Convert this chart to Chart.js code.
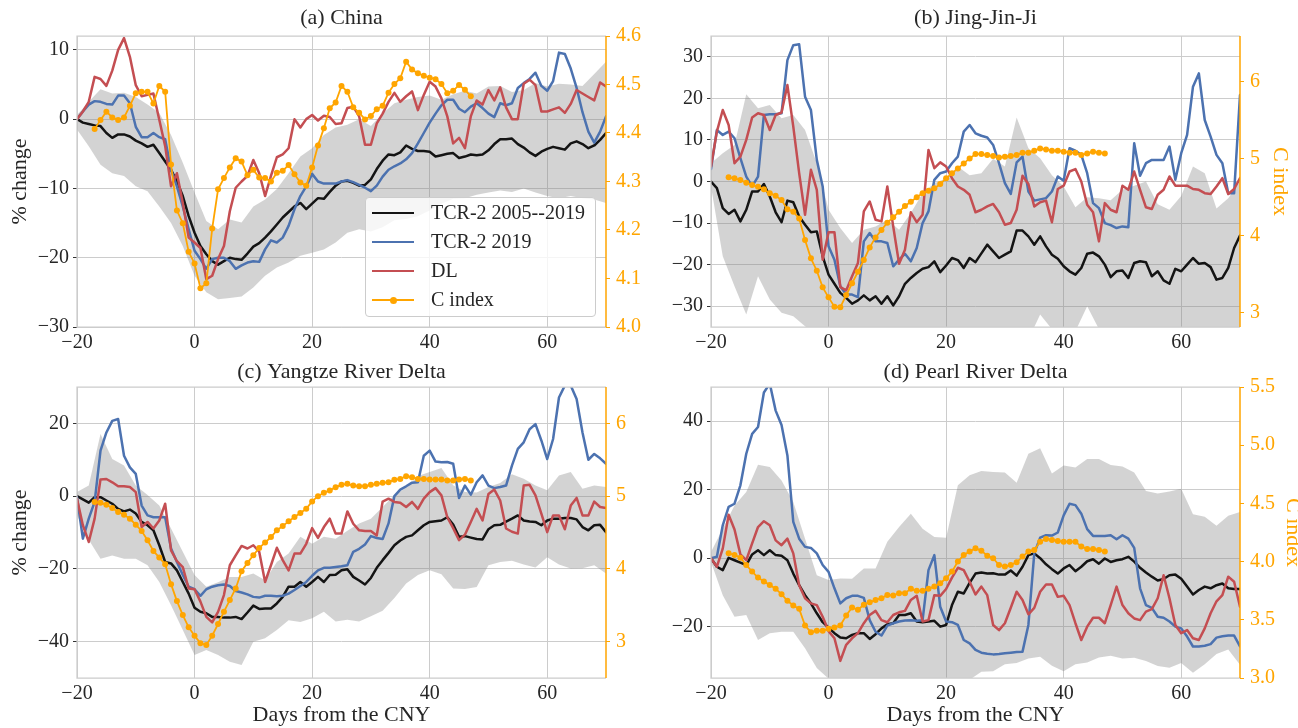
<!DOCTYPE html>
<html lang="en">
<head>
<meta charset="UTF-8">
<title>CNY activity change</title>
<script src="https://cdn.jsdelivr.net/npm/chart.js"></script>
<style>
  html, body { margin: 0; padding: 0; background: #fff; overflow: hidden; }
  #page { position: relative; width: 1298px; height: 728px; overflow: hidden; }
  #page canvas { position: absolute; }
  #legend {
    position: absolute; left: 365px; top: 197px; width: 231px; height: 120px;
    box-sizing: border-box; padding-top: 0px;
    background: rgba(255,255,255,0.8); border: 1px solid #cccccc; border-radius: 4px;
    font: 20px 'Liberation Serif', 'Times New Roman', serif; color: #262626; z-index: 5;
  }
  #legend .row { position: relative; height: 29px; line-height: 29px; padding-left: 65px; white-space: nowrap; }
  #legend .swatch { position: absolute; left: 6px; top: 13.5px; width: 42px; height: 2.5px; }
  #legend .dot { position: absolute; left: 17.5px; top: -2px; width: 7px; height: 7px; border-radius: 50%; }
</style>
</head>
<body>
<div id="page">
  <canvas id="pa" width="649" height="364" style="left:0;top:0"></canvas>
  <canvas id="pb" width="649" height="364" style="left:649px;top:0"></canvas>
  <canvas id="pc" width="649" height="377" style="left:0;top:351px"></canvas>
  <canvas id="pd" width="662" height="377" style="left:649px;top:351px"></canvas>
  <div id="legend"></div>
</div>
<script>
// ---- x positions: days from the CNY ----
const days = Array.from({length: 91}, (_, i) => i - 20);      // lines
const bandDays = Array.from({length: 46}, (_, i) => 2 * i - 20); // spread band
const cDays = Array.from({length: 65}, (_, i) => i - 17);     // C index
const xTicks = [-20, 0, 20, 40, 60];

const seriesNames = ['TCR-2 2005--2019', 'TCR-2 2019', 'DL', 'C index'];

// ---- (a) China ----
const chinaBlack = [
  0, -0.5, -0.7, -0.9, -1.0, -2.0, -2.7, -2.2, -2.2, -2.5,
  -3.1, -3.5, -4.0, -3.7, -4.9, -6.1, -7.3, -9.0, -11.1, -14.0,
  -16.4, -18.3, -19.5, -20.5, -21.0, -20.5, -20.0, -20.2, -20.3, -19.4,
  -18.4, -17.9, -17.1, -16.2, -15.2, -14.2, -13.4, -12.6, -12.1, -13.0,
  -12.2, -11.4, -11.5, -10.5, -9.6, -9.0, -8.9, -9.2, -9.6, -9.5,
  -8.7, -7.2, -6.0, -5.1, -5.2, -4.8, -3.8, -4.3, -4.6, -4.6,
  -4.7, -5.4, -5.2, -5.0, -4.9, -5.6, -5.4, -5.1, -5.2, -5.1,
  -4.5, -3.6, -2.9, -2.9, -2.8, -3.6, -4.1, -4.8, -5.3, -4.7,
  -4.3, -4.0, -4.2, -4.4, -3.5, -3.2, -3.6, -4.2, -3.8, -3.0,
  -2.0];
const chinaBlue = [
  0, 1.1, 2.1, 2.6, 2.5, 2.2, 2.1, 3.4, 3.4, 2.3,
  -1.1, -2.6, -2.6, -2.0, -2.6, -2.9, -7.3, -9.7, -12.6, -15.9,
  -19.0, -20.2, -21.6, -20.2, -20.0, -20.0, -20.5, -21.6, -21.1, -20.7,
  -20.5, -20.6, -18.8, -17.5, -17.8, -17.1, -15.4, -13.0, -11.1, -9.7,
  -7.9, -9.0, -9.3, -9.3, -9.3, -9.0, -8.8, -9.1, -9.5, -9.9,
  -10.4, -9.6, -8.3, -7.3, -6.8, -6.4, -5.8, -4.9, -3.5, -2.0,
  -0.5, 0.8, 2.0, 2.8, 2.8, 1.5, 1.0, 1.8, 2.3, 1.6,
  0.8, 0.3, 2.3, 2.0, 2.3, 4.5, 5.2, 5.8, 6.7, 4.8,
  4.1, 5.5, 9.6, 9.4, 7.3, 4.5, 1.0, -1.8, -3.4, -1.8,
  0.4];
const chinaRed = [
  0, 1.1, 2.5, 6.1, 5.8, 4.8, 7.0, 10.0, 11.7, 9.0,
  4.9, 3.3, 3.5, 3.7, -0.1, -3.9, -9.7, -7.8, -12.1, -17.1,
  -17.8, -18.6, -23.1, -22.6, -20.2, -18.3, -13.3, -9.9, -9.0, -8.2,
  -5.9, -7.8, -11.1, -8.2, -5.5, -5.1, -4.2, 0.0, -1.2, 0.0,
  0.6, -0.2, 0.5, 0.3, -0.7, -0.6, 1.6, 1.8, 0.4, -3.7,
  -3.7, -0.6, 0.8, 2.5, 3.8, 2.5, 3.3, 4.0, 1.3, 3.5,
  5.4, 4.7, 3.0, 0.4, -3.5, -2.7, -4.2, 0.4, 2.7, 2.1,
  4.2, 2.7, 4.6, 1.7, 0.0, 0.0, 5.1, 5.7, 4.9, 1.1,
  1.1, 1.4, 1.7, 0.9, 2.2, 4.2, 3.7, 3.2, 2.7, 5.3,
  4.7];
const chinaHi = [
  0.6, 2.5, 4.3, 3.7, 3.8, 3.2, 2.1, 0.9, -2.3, -6.3,
  -10.6, -14.7, -15.9, -14.5, -14.9, -12.6, -11.6, -10.1, -7.8, -5.4,
  -4.2, -2.3, -1.2, -0.8, 0.0, -1.0, 0.8, 2.3, 2.8, 3.2,
  3.4, 2.8, 3.6, 4.1, 3.7, 4.7, 4.8, 3.9, 4.2, 5.2,
  4.7, 5.1, 5.0, 4.8, 6.5, 8.3];
const chinaLo = [
  -1.5, -3.9, -6.6, -7.8, -8.2, -9.7, -10.4, -12.6, -15.0, -18.3,
  -22.6, -25.0, -26.0, -25.8, -25.6, -24.3, -22.6, -21.4, -20.7, -19.7,
  -19.3, -18.8, -17.8, -16.4, -15.9, -16.2, -15.6, -14.6, -14.4, -14.0,
  -13.2, -12.2, -11.5, -11.4, -10.9, -10.6, -10.3, -10.5, -10.0, -10.6,
  -11.1, -11.4, -11.1, -11.4, -11.6, -12.1];
const chinaC = [
  4.408, 4.427, 4.444, 4.432, 4.427, 4.432, 4.456, 4.482, 4.485, 4.485,
  4.461, 4.497, 4.485, 4.335, 4.240, 4.214, 4.155, 4.131, 4.080, 4.090,
  4.203, 4.284, 4.307, 4.329, 4.348, 4.341, 4.313, 4.324, 4.308, 4.307,
  4.300, 4.318, 4.322, 4.334, 4.315, 4.298, 4.291, 4.329, 4.374, 4.410,
  4.451, 4.463, 4.497, 4.485, 4.453, 4.442, 4.428, 4.435, 4.449, 4.456,
  4.483, 4.501, 4.513, 4.547, 4.531, 4.523, 4.518, 4.514, 4.511, 4.501,
  4.482, 4.487, 4.499, 4.489, 4.476];
const chinaYTicks = [-30, -20, -10, 0, 10];
const chinaCTicks = [4.0, 4.1, 4.2, 4.3, 4.4, 4.5, 4.6];

// ---- (b) Jing-Jin-Ji ----
const jjjBlack = [
  0, -1.6, -6.4, -7.8, -6.8, -9.6, -6.8, -2.4, -2.4, -0.6,
  -3.6, -7.4, -9.8, -4.6, -5.0, -8.4, -10.4, -12.2, -12.0, -18.0,
  -22.4, -24.6, -26.8, -28.0, -29.4, -28.6, -27.4, -28.6, -27.6, -29.4,
  -27.6, -29.8, -27.6, -24.6, -23.2, -22.0, -21.0, -20.6, -19.2, -21.8,
  -20.2, -18.4, -18.9, -20.8, -18.4, -19.4, -17.3, -15.2, -16.8, -18.4,
  -17.6, -16.8, -11.8, -11.8, -13.2, -15.2, -13.2, -15.6, -17.6, -18.6,
  -20.4, -21.6, -22.4, -20.8, -17.4, -17.1, -18.0, -20.0, -23.0, -21.6,
  -21.4, -23.2, -19.6, -19.2, -19.4, -22.8, -21.6, -23.8, -24.6, -21.0,
  -21.6, -20.0, -18.4, -19.8, -19.6, -20.6, -23.6, -23.2, -20.8, -16.0,
  -13.0];
const jjjBlue = [
  3.0, 12.4, 11.2, 12.0, 10.4, 5.6, 1.2, -1.2, 1.2, 16.0,
  16.2, 16.2, 16.4, 29.2, 32.8, 33.0, 20.4, 17.2, 5.2, -1.2,
  -15.6, -18.8, -25.2, -27.2, -27.2, -27.8, -14.4, -12.4, -14.4, -14.4,
  -14.8, -20.4, -18.8, -17.4, -19.2, -16.0, -10.0, -7.2, 0.4, 2.0,
  2.4, 4.4, 6.0, 12.0, 13.6, 11.6, 11.0, 10.6, 8.8, 4.4,
  -0.4, -3.0, 4.6, 6.0, -2.4, -4.6, -4.3, -4.0, -2.4, 1.2,
  0.2, 8.0, 7.4, 6.4, 2.0, -5.2, -6.4, -10.0, -10.5, -11.2,
  -10.8, -11.0, 9.2, 1.4, 4.4, 5.2, 5.2, 5.2, 8.4, 0.4,
  6.8, 11.2, 22.8, 26.0, 14.8, 10.8, 6.4, 4.4, -2.8, -2.8,
  20.8];
const jjjRed = [
  3.6, 12.0, 17.2, 13.6, 4.4, 6.0, 10.0, 15.4, 16.4, 16.0,
  12.4, 16.0, 16.6, 23.2, 13.2, 2.0, -8.0, 2.8, -2.0, -18.8,
  -12.2, -12.2, -25.4, -26.2, -22.8, -19.6, -7.2, -4.8, -9.2, -9.6,
  -1.2, -10.8, -19.8, -16.4, -7.4, -9.8, -8.0, 7.6, 3.2, 4.6,
  3.6, 0.8, -1.2, -2.0, -3.2, -7.4, -6.8, -6.0, -5.4, -7.4,
  -10.4, -10.0, -6.8, 1.4, -0.6, -6.0, -5.0, -4.6, -9.8, -1.8,
  -1.0, 2.4, 3.0, 0.0, -5.6, -7.4, -14.4, -5.2, -6.8, -7.4,
  -1.0, -2.0, 2.4, -2.0, -6.2, -6.6, -3.2, -2.0, 1.2, -1.0,
  -1.0, -1.0, -1.8, -2.0, -2.8, -3.0, -1.2, 0.8, -3.0, -1.8,
  0.8];
const jjjHi = [
  4.4, 6.8, 8.8, 21.0, 17.6, 18.4, 15.2, 16.0, 12.4, 4.4,
  -6.8, -11.2, -14.8, -11.6, -10.8, -9.2, -11.6, -7.6, -2.8, -0.4,
  0.8, 3.6, 1.5, 2.0, 5.5, 3.6, 15.4, 8.0, 5.6, 1.5,
  -1.2, -6.2, -3.8, -4.0, -4.5, -2.0, -1.0, 0.0, -5.5, -6.8,
  -3.5, 3.6, 2.0, -6.5, -4.0, 0.0];
const jjjLo = [
  -1.2, -18.0, -25.2, -32.0, -22.8, -28.4, -31.6, -32.4, -34.8, -37,
  -38, -38, -38, -38, -38, -38, -38, -38, -38, -38,
  -38, -38, -38, -38, -38, -38, -38, -38, -32, -35.5,
  -38, -36, -30, -35.5, -38, -38, -38, -38, -38, -38,
  -38, -38, -38, -38, -38, -38];
const jjjC = [
  4.758, 4.745, 4.723, 4.688, 4.658, 4.636, 4.602, 4.550, 4.519, 4.463,
  4.342, 4.312, 4.225, 3.944, 3.706, 3.545, 3.329, 3.199, 3.078, 3.069,
  3.229, 3.381, 3.532, 3.684, 3.848, 3.978, 4.074, 4.169, 4.238, 4.312,
  4.385, 4.442, 4.498, 4.550, 4.584, 4.615, 4.671, 4.745, 4.810, 4.874,
  4.939, 5.004, 5.060, 5.060, 5.048, 5.035, 5.017, 5.026, 5.035, 5.048,
  5.078, 5.078, 5.104, 5.134, 5.121, 5.104, 5.104, 5.091, 5.078, 5.078,
  5.048, 5.069, 5.091, 5.078, 5.069];
const jjjYTicks = [-30, -20, -10, 0, 10, 20, 30];
const jjjCTicks = [3, 4, 5, 6];

// ---- (c) Yangtze River Delta ----
const yrdBlack = [
  0, -0.9, -1.8, -0.3, -0.3, -1.2, -2.1, -3.5, -4.2, -3.7,
  -4.8, -7.1, -8.0, -9.4, -13.5, -18.1, -18.5, -20.4, -23.6, -26.8,
  -30.7, -31.8, -32.2, -33.2, -33.2, -33.4, -33.4, -33.2, -33.8, -32.0,
  -30.1, -31.0, -30.9, -30.9, -29.5, -27.7, -24.9, -24.9, -23.6, -24.9,
  -23.6, -22.2, -23.6, -21.7, -21.6, -20.4, -20.1, -22.2, -23.2, -24.3,
  -22.5, -19.7, -17.6, -15.6, -13.5, -12.2, -11.2, -10.8, -9.4, -8.0,
  -7.1, -6.9, -6.7, -5.8, -7.8, -11.2, -11.0, -11.4, -11.8, -11.9,
  -9.1, -8.0, -7.9, -7.0, -6.2, -5.3, -6.7, -7.0, -7.1, -8.0,
  -6.7, -6.2, -6.2, -6.0, -6.0, -6.4, -8.5, -9.4, -8.0, -7.9,
  -9.9];
const yrdBlue = [
  -0.3, -11.7, -6.2, -1.6, 12.5, 17.5, 20.7, 21.2, 11.1, 7.9,
  6.1, -2.6, -5.3, -5.8, -5.8, -5.8, -14.4, -18.1, -21.7, -24.9,
  -25.6, -27.4, -25.6, -24.9, -24.5, -24.3, -24.7, -26.1, -26.5, -27.0,
  -27.7, -27.9, -27.4, -27.4, -27.5, -27.4, -26.8, -25.8, -24.7, -23.6,
  -21.9, -20.4, -19.7, -19.7, -19.5, -19.3, -19.0, -15.3, -14.5, -13.3,
  -11.0, -11.5, -11.8, -7.5, 0.0, 1.8, 2.7, 3.7, 3.8, 11.1,
  12.5, 9.5, 9.3, 9.4, 8.9, -0.5, 2.9, 0.4, 3.8, 5.7,
  2.9, 2.2, 2.5, 2.9, 8.4, 13.0, 14.8, 18.4, 19.8, 15.3,
  10.2, 15.7, 27.1, 30.4, 30.4, 26.7, 17.5, 10.0, 11.6, 10.4,
  8.9];
const yrdRed = [
  -0.7, -8.0, -12.6, -6.2, 4.6, 4.7, 3.8, 2.7, 2.7, 2.5,
  1.1, -8.5, -7.1, -8.9, -6.7, -2.1, -14.9, -17.9, -19.5, -25.4,
  -25.6, -29.0, -33.2, -34.7, -31.8, -27.2, -19.0, -16.3, -13.7, -14.4,
  -13.5, -15.3, -23.6, -19.0, -14.2, -17.6, -20.4, -15.8, -15.8, -13.1,
  -8.8, -11.5, -8.5, -6.2, -10.3, -10.3, -4.2, -7.6, -9.4, -9.6,
  -9.6, -10.8, -1.5, -0.7, -1.6, -1.8, -3.0, -1.6, -3.5, -0.7,
  1.1, 2.2, 0.2, -5.8, -8.8, -12.1, -10.6, -7.1, -3.5, -6.7,
  0.6, 1.8, -1.2, -8.9, -9.8, -10.3, 2.9, 3.1, 0.2, -4.8,
  -9.9, -5.3, -5.3, -9.1, -2.6, -0.5, -5.3, -5.3, -1.5, -3.0,
  -3.3];
const yrdHi = [
  1.1, 2.9, 17.1, 10.2, 8.4, 2.9, 0.3, -2.6, -8.9, -15.3,
  -21.7, -24.9, -23.7, -22.2, -22.2, -21.3, -23.1, -18.1, -15.8, -11.2,
  -13.1, -11.2, -11.7, -9.5, -7.5, -6.2, -3.0, 0.3, 2.3, 5.5,
  6.6, 7.7, 3.0, 1.1, 1.0, 2.5, 3.6, 6.0, 4.8, 2.9,
  1.6, 5.7, 6.6, 2.0, 2.9, 2.5];
const yrdLo = [
  -5.3, -12.0, -17.2, -16.3, -17.2, -17.2, -19.0, -23.6, -30.0, -36.8,
  -43.7, -42.3, -43.7, -45.5, -46.4, -40.0, -39.1, -36.8, -34.1, -34.6,
  -33.6, -31.8, -34.5, -34.0, -34.5, -33.0, -31.5, -28.0, -24.0, -21.7,
  -20.4, -21.5, -25.4, -25.5, -25.0, -19.0, -18.1, -17.8, -18.8, -19.6,
  -16.8, -18.8, -19.9, -19.8, -19.0, -21.3];
const yrdC = [
  4.918, 4.909, 4.881, 4.836, 4.781, 4.744, 4.689, 4.607, 4.521, 4.393,
  4.247, 4.155, 4.064, 3.790, 3.557, 3.365, 3.196, 3.082, 2.977, 2.954,
  3.082, 3.242, 3.411, 3.571, 3.731, 3.968, 4.082, 4.187, 4.288, 4.361,
  4.438, 4.530, 4.589, 4.653, 4.712, 4.767, 4.826, 4.927, 5.000, 5.046,
  5.078, 5.123, 5.155, 5.169, 5.146, 5.137, 5.137, 5.155, 5.169, 5.183,
  5.192, 5.224, 5.237, 5.274, 5.260, 5.237, 5.237, 5.228, 5.228, 5.228,
  5.215, 5.215, 5.228, 5.237, 5.215];
const yrdYTicks = [-40, -20, 0, 20];
const yrdCTicks = [3, 4, 5, 6];

// ---- (d) Pearl River Delta ----
const prdBlack = [
  0, -2.5, -3.5, 0.1, -0.6, -1.3, -2.0, 1.1, 2.3, 0.9,
  2.3, 0.9, 0.7, -0.6, -4.5, -7.9, -10.8, -13.2, -16.1, -18.7,
  -20.3, -21.9, -23.2, -23.4, -22.4, -21.9, -21.9, -23.6, -22.2, -20.5,
  -19.3, -19.0, -16.6, -16.6, -16.1, -18.5, -18.7, -18.5, -18.3, -20.0,
  -19.5, -13.7, -9.8, -10.3, -7.2, -4.5, -4.2, -4.5, -4.4, -4.8,
  -4.8, -3.6, -5.1, -2.5, 0.9, 1.4, 0.0, -1.8, -3.2, -4.5,
  -3.0, -2.0, -3.8, -2.5, -0.9, -0.3, -1.6, -0.1, -1.1, -0.6,
  -0.3, 0.4, -1.0, -2.8, -4.2, -5.4, -6.5, -6.1, -5.0, -4.8,
  -6.0, -8.3, -10.6, -9.3, -8.3, -8.8, -7.9, -7.4, -8.8, -9.0,
  -9.0];
const prdBlue = [
  0, 0.4, 9.6, 15.0, 15.9, 21.3, 30.5, 36.3, 38.3, 48.4,
  51.0, 43.1, 38.9, 30.0, 10.6, 5.7, 3.3, 3.0, 1.4, -2.0,
  -4.0, -8.8, -13.2, -11.7, -11.0, -11.0, -11.6, -18.1, -21.5, -22.6,
  -19.7, -19.0, -18.5, -18.2, -18.1, -18.3, -18.1, -3.5, 0.9, -14.2,
  -18.5, -18.7, -19.5, -23.9, -24.9, -26.8, -27.6, -27.9, -28.1, -28.0,
  -27.8, -27.6, -27.4, -27.3, -19.5, 1.4, 6.0, 6.7, 6.6, 7.5,
  12.5, 15.9, 15.5, 13.0, 8.5, 6.5, 6.5, 6.5, 6.7, 5.5,
  6.7, 5.7, 3.0, -8.8, -13.7, -14.5, -17.1, -17.4, -18.5, -20.0,
  -20.5, -22.9, -25.8, -25.8, -25.6, -25.1, -23.2, -22.8, -22.6, -22.6,
  -25.8];
const prdRed = [
  0, -2.5, 2.8, 12.7, 8.4, 1.1, -0.6, 4.3, 9.1, 10.8,
  9.6, 5.2, 3.8, 5.7, 1.4, -7.9, -11.7, -13.2, -13.7, -17.1,
  -21.3, -23.4, -30.0, -25.3, -23.4, -21.9, -19.0, -16.6, -15.4, -18.1,
  -18.7, -16.6, -15.8, -15.4, -12.2, -11.0, -18.5, -18.1, -10.8, -11.0,
  -9.0, -5.7, -2.8, -3.5, -6.9, -10.6, -8.3, -10.8, -19.5, -21.0,
  -19.0, -14.5, -9.8, -12.2, -16.4, -14.5, -9.8, -7.7, -7.7, -11.3,
  -11.0, -13.7, -19.0, -23.9, -20.0, -17.4, -17.4, -19.0, -13.7, -8.3,
  -13.7, -16.1, -17.6, -18.1, -15.6, -14.9, -11.7, -5.0, -11.7, -19.5,
  -21.9, -21.0, -23.4, -23.9, -20.5, -16.1, -12.6, -10.8, -5.4, -6.9,
  -14.2];
const prdHi = [
  1.8, 8.6, 15.4, 19.3, 27.3, 26.6, 22.7, 16.4, 5.7, -5.0,
  -6.4, -5.9, -6.0, -3.0, -3.0, 4.8, 9.1, 13.0, 8.6, 6.2,
  6.0, 21.3, 24.2, 25.5, 25.2, 25.0, 22.0, 30.5, 32.1, 24.7,
  27.1, 26.5, 29.0, 29.0, 27.2, 26.8, 25.0, 19.6, 18.9, 19.5,
  20.3, 12.8, 12.1, 9.5, 12.4, 13.5];
const prdLo = [
  -1.1, -10.8, -17.1, -16.6, -23.9, -21.9, -21.5, -21.5, -26.3, -32.1,
  -35.2, -37, -37, -37, -37, -37, -37, -37, -37, -37,
  -37, -37, -35.5, -33.2, -33.0, -31.0, -30.6, -29.3, -28.8, -31.4,
  -33.0, -31.0, -30.5, -29.0, -28.5, -29.3, -29.1, -30.0, -31.5, -32.0,
  -30.6, -33.5, -31.0, -28.0, -26.7, -31.1];
const prdC = [
  4.071, 4.057, 4.034, 3.971, 3.914, 3.863, 3.829, 3.800, 3.766, 3.720,
  3.663, 3.623, 3.594, 3.451, 3.394, 3.406, 3.406, 3.423, 3.434, 3.451,
  3.537, 3.606, 3.586, 3.629, 3.651, 3.671, 3.686, 3.714, 3.709, 3.729,
  3.729, 3.766, 3.749, 3.749, 3.766, 3.786, 3.814, 3.857, 3.914, 4.000,
  4.057, 4.086, 4.114, 4.094, 4.051, 4.029, 3.971, 3.957, 3.971, 3.994,
  4.043, 4.086, 4.100, 4.171, 4.194, 4.186, 4.177, 4.171, 4.171, 4.171,
  4.129, 4.109, 4.109, 4.100, 4.086];
const prdYTicks = [-20, 0, 20, 40];
const prdCTicks = [3.0, 3.5, 4.0, 4.5, 5.0, 5.5];

// ---- styling ----
const SERIF = "'Liberation Serif', 'Times New Roman', serif";
const INK = '#262626';
const GRID = '#cccccc';
const BAND = 'rgba(128,128,128,0.35)';
const ORANGE = '#FFA500';
const colors = ['#141414', '#4C72B0', '#C44E52', ORANGE];

Chart.defaults.font.family = SERIF;
Chart.defaults.color = INK;

const pts = (xs, ys) => xs.map((x, i) => ({x: x, y: ys[i]}));
const fmt = dec => v => (v < 0 ? '\u2212' : '') + Math.abs(v).toFixed(dec);
const fixTicks = list => scale => { scale.ticks = list.map(v => ({value: v})); };

// light grey frame with an orange right spine
const frame = {
  id: 'frame',
  afterDatasetsDraw(chart) {
    const {ctx, chartArea: a} = chart;
    ctx.save();
    ctx.lineWidth = 1.25;
    ctx.strokeStyle = GRID;
    ctx.beginPath();
    ctx.moveTo(a.right, a.top);
    ctx.lineTo(a.left, a.top);
    ctx.lineTo(a.left, a.bottom);
    ctx.lineTo(a.right, a.bottom);
    ctx.stroke();
    ctx.strokeStyle = ORANGE;
    ctx.lineWidth = 1.5;
    ctx.beginPath();
    ctx.moveTo(a.right, a.top);
    ctx.lineTo(a.right, a.bottom);
    ctx.stroke();
    ctx.restore();
  }
};

function line(label, data, color, order) {
  return {label, data, borderColor: color, borderWidth: 2.5, pointRadius: 0,
          borderJoinStyle: 'round', borderCapStyle: 'round', fill: false, order};
}

function panel(id, p) {
  new Chart(document.getElementById(id), {
    type: 'line',
    data: {
      datasets: [
        {label: seriesNames[3], yAxisID: 'y1', data: pts(cDays, p.c), borderColor: ORANGE,
         backgroundColor: ORANGE, borderWidth: 1.8, pointRadius: 3, pointBorderWidth: 0,
         pointHoverRadius: 3, fill: false, order: 0},
        line(seriesNames[2], pts(days, p.red), colors[2], 1),
        line(seriesNames[1], pts(days, p.blue), colors[1], 2),
        line(seriesNames[0], pts(days, p.black), colors[0], 3),
        {label: 'upper', data: pts(bandDays, p.hi), borderColor: 'transparent', borderWidth: 0,
         pointRadius: 0, backgroundColor: BAND, fill: '+1', order: 4},
        {label: 'lower', data: pts(bandDays, p.lo), borderColor: 'transparent', borderWidth: 0,
         pointRadius: 0, fill: false, order: 5}
      ]
    },
    options: {
      responsive: false,
      animation: false,
      devicePixelRatio: 1,
      events: [],
      layout: {padding: 0},
      plugins: {
        legend: {display: false},
        tooltip: {enabled: false},
        title: {display: true, text: p.title, fullSize: false, color: INK,
                font: {family: SERIF, size: 22, weight: 'normal'}, padding: p.titlePad}
      },
      scales: {
        x: {
          type: 'linear', min: -20, max: 70,
          afterBuildTicks: fixTicks(xTicks),
          afterFit: s => { s.height = p.xh; },
          grid: {color: GRID, lineWidth: 1, drawTicks: false},
          border: {display: false},
          ticks: {font: {size: 20}, color: INK, padding: 3.5, maxRotation: 0, callback: fmt(0)},
          title: {display: p.bottomRow, text: 'Days from the CNY', color: INK,
                  font: {size: 22}, padding: {top: 0, bottom: 0}}
        },
        y: {
          position: 'left', min: p.yMin, max: p.yMax,
          afterBuildTicks: fixTicks(p.yTicks),
          afterFit: s => { s.width = p.lw; },
          grid: {color: GRID, lineWidth: 1, tickColor: '#333333', tickLength: 4},
          border: {display: false},
          ticks: {font: {size: 20}, color: INK, padding: 4, callback: fmt(0)},
          title: {display: p.leftTitle, text: '% change', color: INK,
                  font: {size: 22}, padding: {top: 7.5, bottom: 0}}
        },
        y1: {
          position: 'right', min: p.cMin, max: p.cMax,
          afterBuildTicks: fixTicks(p.cTicks),
          afterFit: s => { s.width = p.rw; },
          grid: {drawOnChartArea: false, tickColor: ORANGE, tickLength: 4},
          border: {display: false},
          ticks: {font: {size: 20}, color: ORANGE, padding: 6, callback: fmt(p.cDec)},
          title: {display: p.rightTitle, text: 'C index', color: ORANGE,
                  font: {size: 22}, padding: {top: p.cTitlePad, bottom: 0}}
        }
      }
    },
    plugins: [frame]
  });
}

const topPad = {top: 5, bottom: 4.6};
const lowPad = {top: 8, bottom: 1.6};

panel('pa', {title: '(a) China', black: chinaBlack, blue: chinaBlue, red: chinaRed,
  hi: chinaHi, lo: chinaLo, c: chinaC, yMin: -30, yMax: 12, yTicks: chinaYTicks,
  cMin: 4.0, cMax: 4.6, cTicks: chinaCTicks, cDec: 1, lw: 77, rw: 43, xh: 37,
  titlePad: topPad, bottomRow: false, leftTitle: true, rightTitle: false, cTitlePad: 0});

panel('pb', {title: '(b) Jing-Jin-Ji', black: jjjBlack, blue: jjjBlue, red: jjjRed,
  hi: jjjHi, lo: jjjLo, c: jjjC, yMin: -35, yMax: 35, yTicks: jjjYTicks,
  cMin: 2.814, cMax: 6.594, cTicks: jjjCTicks, cDec: 0, lw: 62, rw: 58, xh: 37,
  titlePad: topPad, bottomRow: false, leftTitle: false, rightTitle: true, cTitlePad: 5});

panel('pc', {title: '(c) Yangtze River Delta', black: yrdBlack, blue: yrdBlue, red: yrdRed,
  hi: yrdHi, lo: yrdLo, c: yrdC, yMin: -50, yMax: 30, yTicks: yrdYTicks,
  cMin: 2.5, cMax: 6.5, cTicks: yrdCTicks, cDec: 0, lw: 77, rw: 43, xh: 50,
  titlePad: lowPad, bottomRow: true, leftTitle: true, rightTitle: false, cTitlePad: 0});

// the (d) canvas runs past the page edge, so its axis label is cut at the border
panel('pd', {title: '(d) Pearl River Delta', black: prdBlack, blue: prdBlue, red: prdRed,
  hi: prdHi, lo: prdLo, c: prdC, yMin: -35, yMax: 50, yTicks: prdYTicks,
  cMin: 3.0, cMax: 5.5, cTicks: prdCTicks, cDec: 1, lw: 62, rw: 71, xh: 50,
  titlePad: lowPad, bottomRow: true, leftTitle: false, rightTitle: true, cTitlePad: 5.5});

// legend box inside panel (a)
const legend = document.getElementById('legend');
seriesNames.forEach((name, i) => {
  const row = document.createElement('div');
  row.className = 'row';
  const sw = document.createElement('span');
  sw.className = 'swatch';
  sw.style.background = colors[i];
  if (i === 3) {
    sw.style.height = '2px';
    const dot = document.createElement('i');
    dot.className = 'dot';
    dot.style.background = colors[i];
    sw.appendChild(dot);
  }
  row.appendChild(sw);
  row.appendChild(document.createTextNode(name));
  legend.appendChild(row);
});
</script>
</body>
</html>
